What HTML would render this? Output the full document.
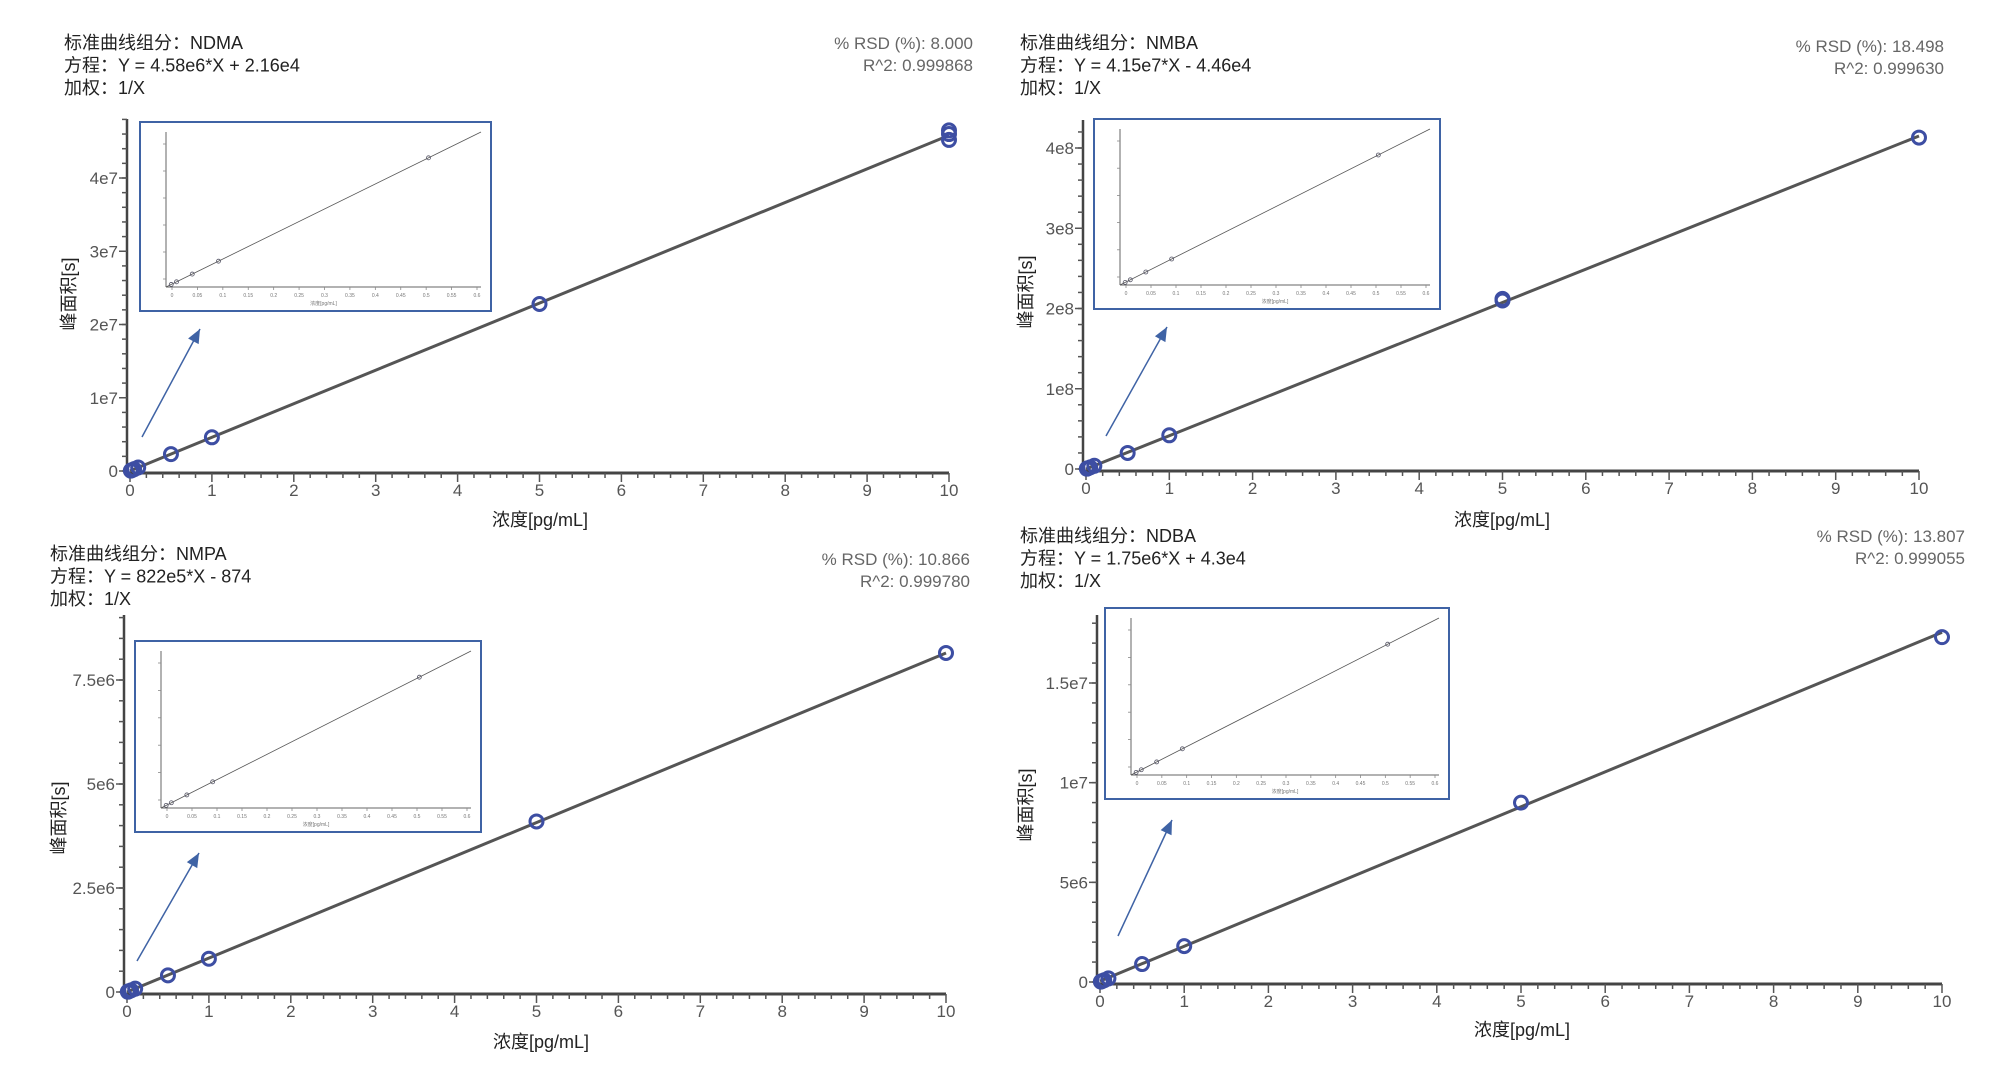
<!DOCTYPE html>
<html><head><meta charset="utf-8">
<style>
body{margin:0;background:#fff;}
svg{display:block;font-family:"Liberation Sans","Noto Sans CJK SC",sans-serif;}
.t{font-size:18px;fill:#222;}
.r{font-size:17px;fill:#666;text-anchor:end;}
.tk{font-size:17px;fill:#555;}
</style></head>
<body>
<svg id="c" width="2000" height="1079" viewBox="0 0 2000 1079"></svg>
<script>
// ---- data ----
const ndmaX = [0.01,0.02,0.05,0.1,0.5,1,5,10,10,10];
const ndmaY = [4.8e4,1.1e5,2.5e5,4.8e5,2.3e6,4.6e6,2.28e7,4.6e7,4.65e7,4.52e7];
const ndmaFit = [4.58e6, 2.16e4];
const ndmaYTicks = [0,1e7,2e7,3e7,4e7];
const ndmaYLabels = ["0","1e7","2e7","3e7","4e7"];

const nmbaX = [0.01,0.02,0.05,0.1,0.5,1,5,5,10];
const nmbaY = [4e5,8e5,2e6,4e6,2e7,4.2e7,2.1e8,2.12e8,4.13e8];
const nmbaFit = [4.15e7, -4.46e4];
const nmbaYTicks = [0,1e8,2e8,3e8,4e8];
const nmbaYLabels = ["0","1e8","2e8","3e8","4e8"];

const nmpaX = [0.01,0.02,0.05,0.1,0.5,1,5,10];
const nmpaY = [8e3,1.6e4,4e4,8e4,4e5,8e5,4.1e6,8.15e6];
const nmpaFit = [8.15e5, -874];
const nmpaYTicks = [0,2.5e6,5e6,7.5e6];
const nmpaYLabels = ["0","2.5e6","5e6","7.5e6"];

const ndbaX = [0.01,0.02,0.05,0.1,0.5,1,5,10];
const ndbaY = [2e4,4e4,9e4,1.8e5,9e5,1.8e6,9e6,1.73e7];
const ndbaFit = [1.75e6, 4.3e4];
const ndbaYTicks = [0,5e6,1e7,1.5e7];
const ndbaYLabels = ["0","5e6","1e7","1.5e7"];

const xTicks = [0,1,2,3,4,5,6,7,8,9,10];

const NS="http://www.w3.org/2000/svg";
const svg=document.getElementById('c');
function mk(tag,attrs,parent,text){
  const e=document.createElementNS(NS,tag);
  for(const k in attrs)e.setAttribute(k,attrs[k]);
  if(text!==undefined)e.textContent=text;
  (parent||svg).appendChild(e);return e;
}

function panel(p){
  const g=mk('g',{});
  
  
  const sx=v=>p.x0+(p.x1-p.x0)*v/10;
  const sy=v=>p.y0-(p.y0-p.yRefPx)*v/p.yRefVal;
  // header text
  p.lines.forEach((s,i)=>{
    const t=mk('text',{x:p.tx,y:p.ty+i*22.5,class:'t'},g,s);
    
    
  });
  p.rlines.forEach((s,i)=>{
    const t=mk('text',{x:p.rx,y:p.ry+i*22,class:'r'},g,s);
    
    
  });
  // axes
  const ya=mk('line',{x1:p.x0-3,y1:p.yTop,x2:p.x0-3,y2:p.y0+2,stroke:'#444','stroke-width':2.5},g);
  
  
  const xa=mk('line',{x1:p.x0-3,y1:p.y0+2,x2:p.x1,y2:p.y0+2,stroke:'#444','stroke-width':3},g);
  
  
  for(let v=0;v<=10.001;v+=0.2){
    const major=Math.abs(v-Math.round(v))<1e-6;
    mk('line',{x1:sx(v),y1:p.y0+2,x2:sx(v),y2:p.y0+(major?11:7),stroke:'#555','stroke-width':1.5},g);
  }
  xTicks.forEach(v=>{
    const t=mk('text',{x:sx(v),y:p.y0+25,class:'tk','text-anchor':'middle'},g,String(v));
    
    
  });
  const step=p.yTicks[1]-p.yTicks[0];
  for(let v=0;sy(v)>p.yTop;v+=step/5){
    mk('line',{x1:p.x0-3,y1:sy(v),x2:p.x0-8,y2:sy(v),stroke:'#555','stroke-width':1.5},g);
  }
  p.yTicks.forEach((v,i)=>{
    mk('line',{x1:p.x0-3,y1:sy(v),x2:p.x0-11,y2:sy(v),stroke:'#555','stroke-width':1.5},g);
    const t=mk('text',{x:p.x0-12,y:sy(v)+6,class:'tk','text-anchor':'end'},g,p.yLabels[i]);
    
    
  });
  const xl=mk('text',{x:p.xlx,y:p.xly,class:'t','text-anchor':'middle'},g,'浓度[pg/mL]');
  
  
  const yl=mk('text',{x:0,y:0,class:'t','text-anchor':'middle',transform:`translate(${p.ylx},${p.yly}) rotate(-90)`},g,'峰面积[s]');
  
  
  // fit line
  const fl=mk('line',{x1:sx(0),y1:sy(p.fit[1]),x2:sx(10),y2:sy(p.fit[0]*10+p.fit[1]),stroke:'#555','stroke-width':3},g);
  
  
  p.xs.forEach((x,i)=>{
    const c=mk('circle',{cx:sx(x),cy:sy(p.ys[i]),r:6.5,fill:'none',stroke:'#3d4ea3','stroke-width':3},g);
    
    
  });
  // inset
  const [ix,iy,iw,ih]=p.inset;
  const ig=mk('g',{},g);
  
  
  mk('rect',{x:ix,y:iy,width:iw,height:ih,fill:'#fff',stroke:'#3f63a5','stroke-width':2},ig);
  const ax0=ix+26,ay0=iy+ih-24,ax1=ix+iw-10,ay1=iy+10;
  mk('line',{x1:ax0,y1:ay1,x2:ax0,y2:ay0,stroke:'#666','stroke-width':1},ig);
  mk('line',{x1:ax0,y1:ay0,x2:ax1,y2:ay0,stroke:'#666','stroke-width':1},ig);
  for(let k=0;k<=12;k++){const xx=ax0+6+k*(ax1-ax0-10)/12;
    mk('line',{x1:xx,y1:ay0,x2:xx,y2:ay0+3,stroke:'#888','stroke-width':0.8},ig);
    mk('text',{x:xx,y:ay0+10,'font-size':5,fill:'#777','text-anchor':'middle'},ig,(k*0.05).toFixed(2).replace(/0+$/,'').replace(/\.$/,''));}
  for(let k=0;k<=5;k++){const yy=ay0-8-k*(ay0-ay1-20)/5;
    mk('line',{x1:ax0-3,y1:yy,x2:ax0,y2:yy,stroke:'#888','stroke-width':0.8},ig);}
  mk('text',{x:(ax0+ax1)/2,y:ay0+18,'font-size':5,fill:'#777','text-anchor':'middle'},ig,'浓度[pg/mL]');
  mk('line',{x1:ax0,y1:ay0,x2:ax1,y2:ay1,stroke:'#555','stroke-width':0.8},ig);
  const fr=v=>v/0.6;
  p.xs.filter(x=>x<=0.5).forEach(x=>{
    const f=fr(x);
    mk('circle',{cx:ax0+f*(ax1-ax0),cy:ay0-f*(ay0-ay1),r:2,fill:'none',stroke:'#556','stroke-width':0.8},ig);
  });
  // arrow
  const [a1,a2,a3,a4]=p.arrow;
  const ar=mk('g',{},g);
  
  
  mk('line',{x1:a1,y1:a2,x2:a3,y2:a4,stroke:'#3f63a5','stroke-width':1.5},ar);
  const ang=Math.atan2(a4-a2,a3-a1),L=14,W=6;
  const bx=a3-L*Math.cos(ang),by=a4-L*Math.sin(ang);
  mk('polygon',{points:`${a3},${a4} ${bx+W*Math.sin(ang)},${by-W*Math.cos(ang)} ${bx-W*Math.sin(ang)},${by+W*Math.cos(ang)}`,fill:'#3f63a5'},ar);
}

panel({name:'ndma',x0:130,x1:949,y0:471,yRefPx:178,yRefVal:4e7,yTop:119,
  xs:ndmaX,ys:ndmaY,fit:ndmaFit,yTicks:ndmaYTicks,yLabels:ndmaYLabels,
  tx:64,ty:49,lines:['标准曲线组分：NDMA','方程：Y = 4.58e6*X + 2.16e4','加权：1/X'],
  rx:973,ry:49,rlines:['% RSD (%): 8.000','R^2: 0.999868'],
  xlx:540,xly:526,ylx:75,yly:294,inset:[140,122,351,189],arrow:[142,437,200,329]});
panel({name:'nmba',x0:1086,x1:1919,y0:469,yRefPx:148,yRefVal:4e8,yTop:120,
  xs:nmbaX,ys:nmbaY,fit:nmbaFit,yTicks:nmbaYTicks,yLabels:nmbaYLabels,
  tx:1020,ty:49,lines:['标准曲线组分：NMBA','方程：Y = 4.15e7*X - 4.46e4','加权：1/X'],
  rx:1944,ry:52,rlines:['% RSD (%): 18.498','R^2: 0.999630'],
  xlx:1502,xly:526,ylx:1032,yly:292,inset:[1094,119,346,190],arrow:[1106,436,1167,327]});
panel({name:'nmpa',x0:127,x1:946,y0:992,yRefPx:680,yRefVal:7.5e6,yTop:615,
  xs:nmpaX,ys:nmpaY,fit:nmpaFit,yTicks:nmpaYTicks,yLabels:nmpaYLabels,
  tx:50,ty:560,lines:['标准曲线组分：NMPA','方程：Y = 822e5*X - 874','加权：1/X'],
  rx:970,ry:565,rlines:['% RSD (%): 10.866','R^2: 0.999780'],
  xlx:541,xly:1048,ylx:65,yly:818,inset:[135,641,346,191],arrow:[137,961,199,853]});
panel({name:'ndba',x0:1100,x1:1942,y0:982,yRefPx:683,yRefVal:1.5e7,yTop:615,
  xs:ndbaX,ys:ndbaY,fit:ndbaFit,yTicks:ndbaYTicks,yLabels:ndbaYLabels,
  tx:1020,ty:542,lines:['标准曲线组分：NDBA','方程：Y = 1.75e6*X + 4.3e4','加权：1/X'],
  rx:1965,ry:542,rlines:['% RSD (%): 13.807','R^2: 0.999055'],
  xlx:1522,xly:1036,ylx:1032,yly:805,inset:[1105,608,344,191],arrow:[1118,936,1172,820]});
</script>
</body></html>
